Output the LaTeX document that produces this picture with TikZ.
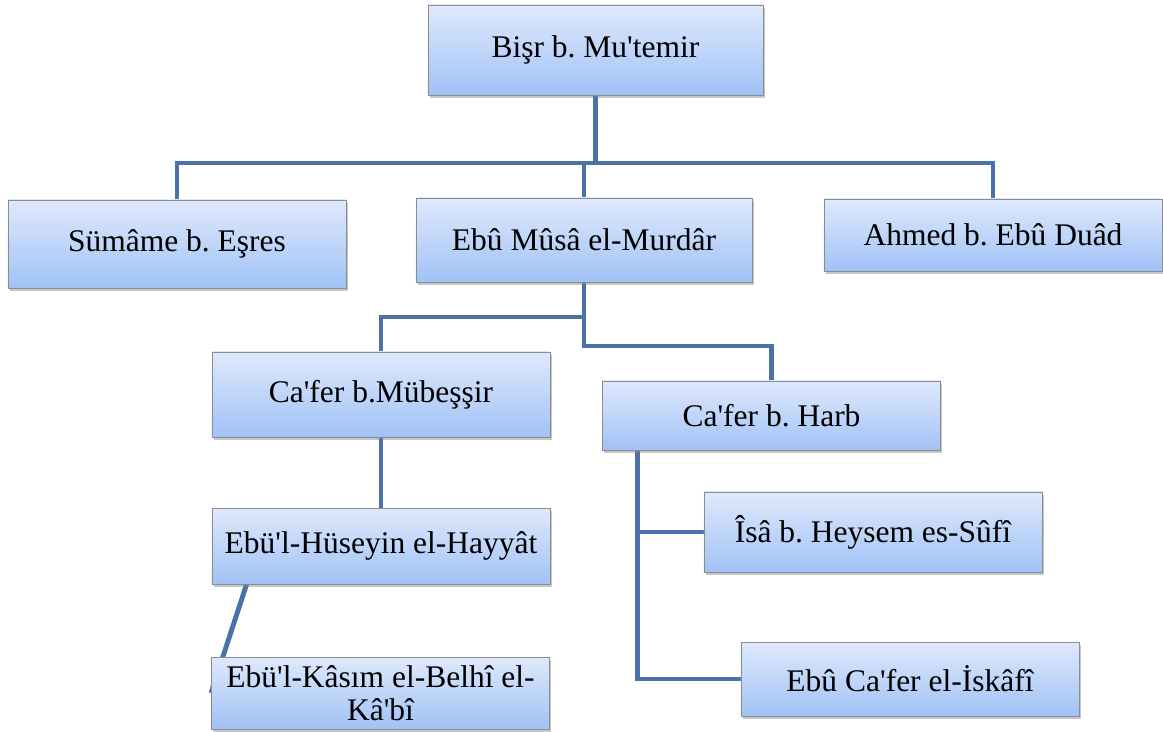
\documentclass[tikz,border=0pt]{standalone}
\usepackage{fontspec}
\setmainfont{Liberation Serif}
\usepackage{tikz}
\usetikzlibrary{shadows,backgrounds}
\definecolor{ustmavi}{RGB}{223,233,252}
\definecolor{altmavi}{RGB}{160,194,246}
\definecolor{cizgi}{RGB}{74,114,168}
\newcommand{\ap}{\textquotesingle}
\frenchspacing

\begin{document}
\begin{tikzpicture}[x=0.025cm, y=-0.025cm,
		kisi/.style={draw=gray!90, line width=0.6pt, top color=ustmavi, bottom color=altmavi,
			minimum width=8.45cm, inner sep=0pt, align=center,
			font=\fontsize{22.4pt}{23.5pt}\selectfont,
			drop shadow={shadow xshift=0.04cm, shadow yshift=-0.08cm, opacity=0.45, fill=gray}},
		bag/.style={draw=cizgi, line width=3.5pt}]
			\useasboundingbox (0,0) rectangle (1163,731);
			\node[kisi, minimum width=8.375cm, minimum height=2.25cm] (bisr) at (595.5,50) {Bişr b. Mu\ap temir};
			\node[kisi, minimum height=2.2cm] (sumame) at (177,244) {Sümâme b. Eşres};
			\node[kisi, minimum width=8.4cm, minimum height=2.1cm] (ebumusa) at (584,240) {Ebû Mûsâ el-Murdâr};
			\node[kisi, minimum height=1.8cm] (ahmed) at (993,235) {Ahmed b. Ebû Duâd};
			\node[kisi, minimum height=2.125cm] (mubessir) at (381,394.5) {Ca\ap fer b.Mübeşşir};
			\node[kisi, minimum height=1.725cm] (harb) at (771.5,415.5) {Ca\ap fer b. Harb};
			\node[kisi, minimum height=1.9cm] (huseyin) at (381,546) {Ebü\ap l-Hüseyin el-Hayyât};
			\node[kisi, minimum height=2cm] (isa) at (873,532) {Îsâ b. Heysem es-Sûfî};
			\node[kisi, minimum height=1.8cm] (kasim) at (380.5,693) {Ebü\ap l-Kâsım el-Belhî el-\\Kâ\ap bî};
			\node[kisi, minimum height=1.85cm] (iskafi) at (910,679) {Ebû Ca\ap fer el-İskâfî};

			\coordinate (bar) at (0,163);
			\coordinate (k1) at (0,317);
			\coordinate (k2) at (0,346);
			\coordinate (hk) at ([xshift=0.875cm]harb.south west);
			\begin{scope}[on background layer]
				\draw[bag] (bisr.south) -- (bisr.south |- bar);
				\draw[bag] (sumame.north) -- (sumame.north |- bar) -- (ahmed.north |- bar) -- (ahmed.north);
				\draw[bag] (ebumusa.north) -- (ebumusa.north |- bar);
				
				\draw[bag] (ebumusa.south) -- (ebumusa.south |- k2) -| (harb.north);
				\draw[bag] (ebumusa.south |- k1) -| (mubessir.north);
				\draw[bag] (mubessir.south) -- (huseyin.north);
				\draw[bag] ([xshift=0.875cm]huseyin.south west) -- (kasim.west);
				
				\draw[bag] (hk) |- (iskafi.west);
				\draw[bag] (hk |- isa.west) -- (isa.west);
			\end{scope}
		\end{tikzpicture}
\end{document}
